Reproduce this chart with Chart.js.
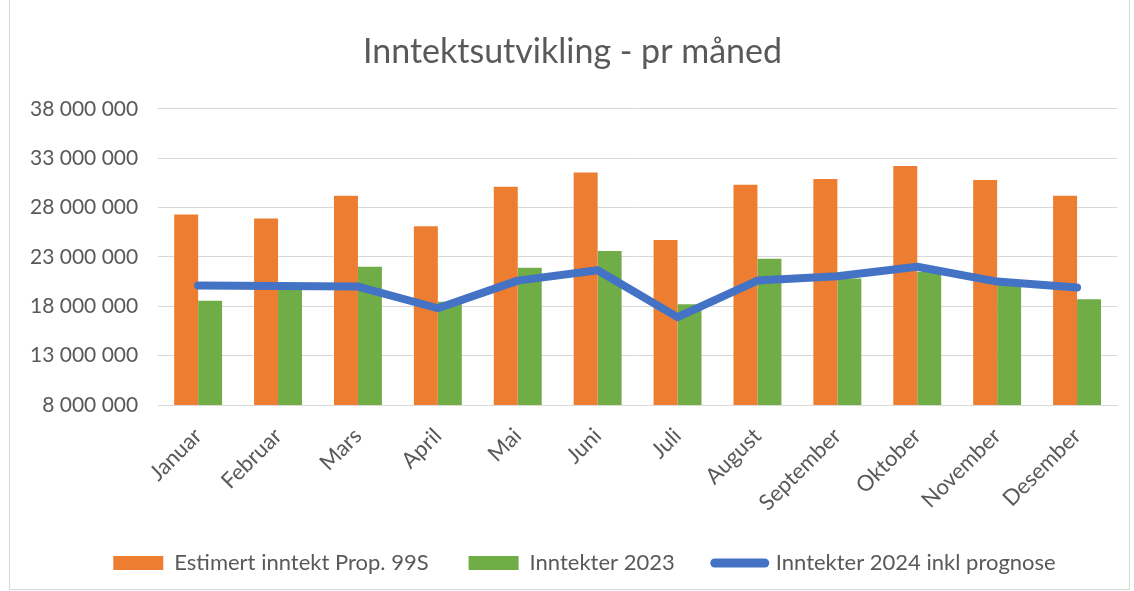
<!DOCTYPE html>
<html>
<head>
<meta charset="utf-8">
<script src="https://cdn.jsdelivr.net/npm/chart.js@4"></script>
<style>
  body { margin: 0; background: #fff; }
  #wrap { position: absolute; left: 9px; top: -1px; width: 1119px; height: 589px; border: 1px solid #d9d9d9; }
</style>
</head>
<body>
<div id="wrap"><canvas id="inntektChart"></canvas></div>
<script>
const months = ['Januar', 'Februar', 'Mars', 'April', 'Mai', 'Juni', 'Juli', 'August', 'September', 'Oktober', 'November', 'Desember'];
const estimert = [27300000, 26900000, 29200000, 26100000, 30100000, 31550000, 24700000, 30300000, 30900000, 32200000, 30800000, 29200000];
const inntekter2023 = [18550000, 20200000, 22000000, 18450000, 21900000, 23600000, 18200000, 22800000, 20800000, 21500000, 20300000, 18700000];
const inntekter2024 = [20100000, 20050000, 20000000, 17800000, 20600000, 21650000, 16900000, 20600000, 21050000, 22000000, 20500000, 19900000];

const grey = '#595959';
Chart.defaults.font.family = 'Lato, "Open Sans", sans-serif';
Chart.defaults.color = grey;

function fmt(v) {
  return String(Math.round(v)).replace(/\B(?=(\d{3})+(?!\d))/g, ' ');
}

// nudge legend and title a bit to the right, like the original
const boxShift = {
  id: 'boxShift',
  afterLayout(chart) {
    if (chart.legend) chart.legend.left += 42;
    if (chart.titleBlock) chart.titleBlock.left += 18;
  }
};

const ctx = document.getElementById('inntektChart');

new Chart(ctx, {
  type: 'bar',
  data: {
    labels: months,
    datasets: [
      {
        type: 'line',
        label: 'Inntekter 2024 inkl prognose',
        data: inntekter2024,
        borderColor: '#4472C4',
        backgroundColor: '#4472C4',
        borderWidth: 8,
        borderCapStyle: 'round',
        borderJoinStyle: 'round',
        pointRadius: 0,
        tension: 0,
        order: 0
      },
      {
        label: 'Estimert inntekt Prop. 99S',
        data: estimert,
        backgroundColor: '#ED7D31',
        order: 1
      },
      {
        label: 'Inntekter 2023',
        data: inntekter2023,
        backgroundColor: '#70AD47',
        order: 1
      }
    ]
  },
  options: {
    responsive: true,
    maintainAspectRatio: false,
    animation: false,
    layout: { padding: { left: 0, right: 12, top: 22, bottom: 7 } },
    datasets: {
      bar: { categoryPercentage: 0.6, barPercentage: 1.0 }
    },
    plugins: {
      title: {
        display: true,
        text: 'Inntektsutvikling - pr måned',
        color: grey,
        font: { size: 34, weight: 'normal' },
        padding: { top: 10, bottom: 36 }
      },
      legend: {
        position: 'bottom',
        maxHeight: 70,
        labels: {
          usePointStyle: true,
          pointStyleWidth: 50,
          boxHeight: 14,
          padding: 40,
          font: { size: 22 },
          color: grey,
          sort: (a, b) => {
            const order = [1, 2, 0];
            return order.indexOf(a.datasetIndex) - order.indexOf(b.datasetIndex);
          },
          generateLabels: (chart) => {
            const items = Chart.defaults.plugins.legend.labels.generateLabels(chart);
            items.forEach(it => {
              if (it.datasetIndex === 0) {
                it.pointStyle = 'line';
                it.lineWidth = 9;
                it.lineCap = 'round';
              } else {
                it.pointStyle = 'rect';
                it.lineWidth = 0;
              }
            });
            return items;
          }
        }
      },
      tooltip: { enabled: false }
    },
    scales: {
      x: {
        grid: { display: false, drawTicks: false },
        border: { display: true, color: '#d9d9d9', width: 1 },
        afterFit: (scale) => { scale.height = 107; },
        ticks: {
          maxRotation: 45,
          minRotation: 45,
          padding: 18,
          font: { size: 22 },
          color: grey
        }
      },
      y: {
        min: 8000000,
        max: 38000000,
        grid: { color: '#d9d9d9', lineWidth: 1, drawTicks: false },
        border: { display: false },
        ticks: {
          stepSize: 5000000,
          padding: 20,
          font: { size: 21 },
          color: grey,
          callback: (v) => fmt(v)
        }
      }
    }
  },
  plugins: [boxShift]
});
</script>
</body>
</html>
